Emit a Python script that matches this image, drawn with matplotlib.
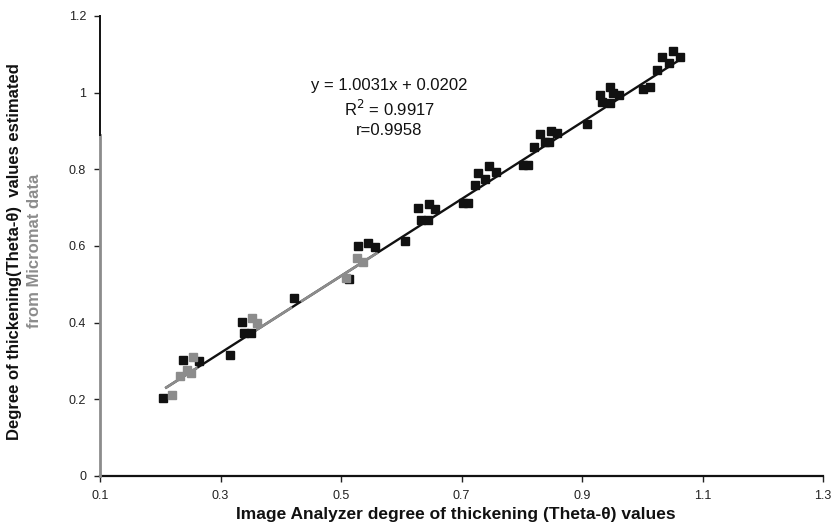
import matplotlib
matplotlib.use("Agg")
import matplotlib.pyplot as plt
import numpy as np

plt.rcParams['font.family'] = ['Liberation Sans', 'DejaVu Sans']

# Grey (lower-range) observations
grey_x = [0.219, 0.232, 0.244, 0.251, 0.254, 0.353, 0.361, 0.509, 0.526, 0.537]
grey_y = [0.211, 0.261, 0.277, 0.269, 0.310, 0.412, 0.399, 0.517, 0.568, 0.558]

# Black observations
black_x = [0.204, 0.237, 0.265, 0.315, 0.336, 0.339, 0.351, 0.422, 0.513, 0.528,
           0.544, 0.557, 0.607, 0.628, 0.633, 0.645, 0.646, 0.656, 0.703, 0.710,
           0.722, 0.727, 0.739, 0.745, 0.757, 0.802, 0.810, 0.821, 0.830, 0.838,
           0.846, 0.848, 0.859, 0.909, 0.930, 0.934, 0.947, 0.947, 0.952, 0.962,
           1.001, 1.013, 1.024, 1.033, 1.044, 1.051, 1.062]
black_y = [0.204, 0.303, 0.300, 0.316, 0.402, 0.373, 0.373, 0.464, 0.514, 0.600,
           0.608, 0.597, 0.613, 0.699, 0.668, 0.668, 0.710, 0.697, 0.712, 0.712,
           0.759, 0.791, 0.775, 0.809, 0.793, 0.811, 0.811, 0.858, 0.892, 0.871,
           0.871, 0.900, 0.895, 0.918, 0.994, 0.976, 0.973, 1.015, 0.999, 0.994,
           1.010, 1.015, 1.059, 1.093, 1.077, 1.109, 1.093]

# Regression line
slope = 1.0031
intercept = 0.0202
fit_range = [0.21, 1.065]
grey_fit_segments = [(0.21, 0.26), (0.353, 0.417), (0.435, 0.559)]

x_ticks = [0.1, 0.3, 0.5, 0.7, 0.9, 1.1, 1.3]
x_tick_labels = ["0.1", "0.3", "0.5", "0.7", "0.9", "1.1", "1.3"]
y_ticks = [0, 0.2, 0.4, 0.6, 0.8, 1.0, 1.2]
y_tick_labels = ["0", "0.2", "0.4", "0.6", "0.8", "1", "1.2"]

BLACK = "#111111"
GREY = "#8c8c8c"

fig = plt.figure(figsize=(8.33, 5.26), dpi=100)
ax = fig.add_axes([100/833, 50/526, 723/833, 460/526])

xf = np.linspace(fit_range[0], fit_range[1], 200)
ax.plot(xf, np.polyval([slope, intercept], xf), color=BLACK, lw=1.7, zorder=2)
for a, b in grey_fit_segments:
    xs = np.linspace(a, b, 50)
    ax.plot(xs, np.polyval([slope, intercept], xs), color=GREY, lw=1.9, zorder=2.5)

ax.plot(black_x, black_y, 's', color=BLACK, ms=5.5, mec=BLACK, zorder=3)
ax.plot(grey_x, grey_y, 's', color=GREY, ms=5.5, mec=GREY, zorder=3)

ax.set_xlim(0.1, 1.3)
ax.set_ylim(0, 1.2)
ax.set_xticks(x_ticks)
ax.set_xticklabels(x_tick_labels)
ax.set_yticks(y_ticks)
ax.set_yticklabels(y_tick_labels)
ax.tick_params(axis='both', direction='out', length=4, width=1, labelsize=9,
               colors="#222222", pad=6)

for s in ['top', 'right']:
    ax.spines[s].set_visible(False)
ax.spines['bottom'].set_linewidth(1.6)
ax.spines['bottom'].set_color(BLACK)
ax.spines['left'].set_visible(False)
# two-tone left axis line
ax.plot([0.1, 0.1], [0, 0.89], color=GREY, lw=2, clip_on=False, zorder=4)
ax.plot([0.1, 0.1], [0.89, 1.2], color=BLACK, lw=1.4, clip_on=False, zorder=4)

ax.text(0.58, 0.96, "y = 1.0031x + 0.0202\nR$^2$ = 0.9917\nr=0.9958",
        ha='center', va='center', fontsize=12, color=BLACK, linespacing=1.35)

fig.text(456/833, 1 - 514/526,
         "Image Analyzer degree of thickening (Theta-θ) values",
         ha='center', va='center', fontsize=12.5, fontweight='bold', color=BLACK)

fig.text(15/833, 1 - 252/526, "Degree of thickening(Theta-θ)  values estimated",
         rotation=90, ha='center', va='center', fontsize=12, fontweight='bold',
         color=BLACK)
fig.text(35/833, 1 - 251/526, "from Micromat data",
         rotation=90, ha='center', va='center', fontsize=12, fontweight='bold',
         color=GREY)

fig.savefig("out.png", dpi=100)
